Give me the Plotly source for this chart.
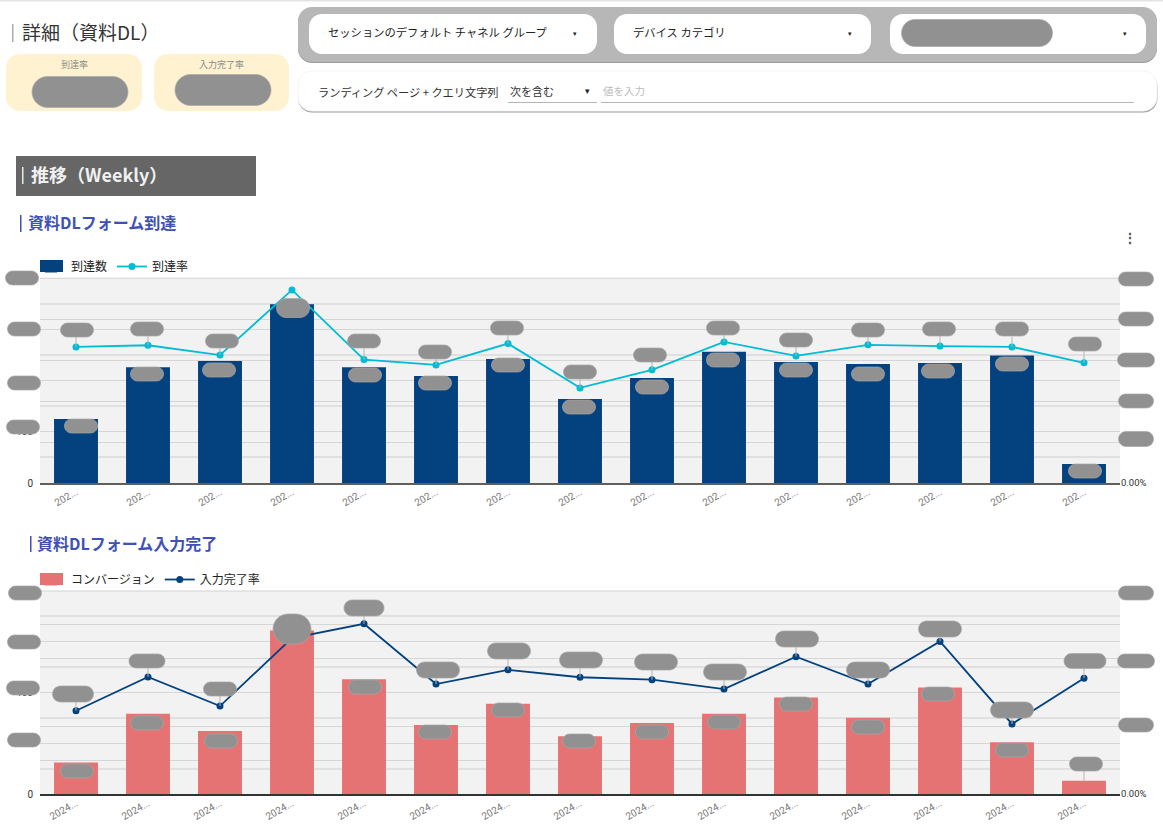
import plotly.graph_objects as go

W, H = 1163, 834
FONT = "Noto Sans CJK JP"
TICK_FONT = "Roboto"

weeks = list(range(1, 16))
tick_labels_1 = ["202..."] * 15
tick_labels_2 = ["2024..."] * 15

reach_count = [125, 226, 238, 349, 226, 209, 242, 164, 205, 256, 236, 232, 234, 249, 37]
reach_rate = [0.332, 0.336, 0.312, 0.471, 0.301, 0.288, 0.340, 0.232, 0.276, 0.344,
              0.310, 0.337, 0.334, 0.332, 0.293]
conversions = [31, 79, 62, 161, 113, 68, 89, 57, 70, 79, 95, 75, 105, 51, 13]
input_rate = [0.246, 0.346, 0.260, 0.461, 0.503, 0.325, 0.367, 0.345, 0.338, 0.310,
              0.406, 0.325, 0.451, 0.207, 0.342]

# leader line length above each rate point, px
leads_1 = [10, 9, 8, 0, 12, 10, 10, 10, 10, 8, 10, 10, 10, 10, 12]
leads_2 = [12, 10, 10, 0, 8, 8, 12, 10, 10, 10, 10, 8, 8, 8, 12]

# grey blanked-out labels: centre x, centre y, width, height
axis_pills = [(22, 278, 33, 14), (24, 329, 33, 14), (24, 383, 33, 14), (23, 427, 33, 14),
              (1136, 279, 35, 14), (1136, 319, 35, 14), (1136, 360, 37, 14),
              (1136, 401, 35, 14), (1136, 439, 35, 15),
              (25, 593, 33, 14), (24, 642, 33, 14), (23, 688, 33, 14), (24, 740, 33, 14),
              (1136, 593, 35, 14), (1136, 661, 37, 14), (1136, 725, 35, 14)]
reach_pills = [(77, 330, 33, 14), (147, 329, 33, 14), (222, 341, 33, 14), (364, 341, 33, 14),
               (435, 352, 33, 14), (507, 328, 33, 14), (580, 372, 33, 14), (650, 355, 33, 14),
               (723, 328, 33, 14), (796, 340, 33, 14), (868, 330, 33, 14), (939, 329, 33, 14),
               (1012, 329, 33, 14), (1085, 344, 33, 14),
               (81, 426, 33, 14), (147, 374, 33, 14), (219, 370, 33, 14), (293, 308, 33, 19),
               (365, 375, 33, 14), (435, 383, 33, 14), (508, 365, 33, 14), (579, 407, 33, 14),
               (652, 387, 33, 14), (723, 360, 33, 14), (796, 370, 33, 14), (868, 374, 33, 14),
               (938, 371, 33, 14), (1012, 364, 33, 14), (1085, 471, 33, 14)]
input_pills = [(73, 694, 41, 16), (147, 661, 36, 14), (220, 689, 33, 14), (292, 629, 38, 30),
               (364, 608, 40, 16), (438, 670, 43, 16), (509, 651, 43, 16), (581, 660, 43, 16),
               (656, 662, 43, 16), (725, 672, 43, 16), (797, 639, 43, 16), (868, 670, 43, 16),
               (940, 629, 43, 16), (1012, 710, 43, 16), (1085, 661, 42, 15),
               (77, 771, 33, 14), (147, 723, 33, 14), (221, 741, 33, 14), (365, 687, 33, 14),
               (435, 732, 33, 14), (508, 710, 33, 14), (579, 741, 33, 14), (652, 732, 33, 14),
               (724, 722, 33, 14), (796, 704, 33, 14), (868, 727, 33, 14), (938, 694, 33, 14),
               (1012, 750, 33, 14), (1086, 764, 33, 14)]
header_pills = [(80, 92, 96, 31), (223, 90, 96, 31), (977, 33, 151, 27)]


def px(x):
    return x / W


def py(y):
    return 1 - y / H


def round_rect(x0, y0, x1, y1, r, fill, line=None, width=1):
    # rounded box in page pixels, corners are cubic arcs
    k = r * 0.45
    p = (f"M {px(x0 + r)} {py(y0)} L {px(x1 - r)} {py(y0)} "
         f"C {px(x1 - k)} {py(y0)} {px(x1)} {py(y0 + k)} {px(x1)} {py(y0 + r)} "
         f"L {px(x1)} {py(y1 - r)} C {px(x1)} {py(y1 - k)} {px(x1 - k)} {py(y1)} {px(x1 - r)} {py(y1)} "
         f"L {px(x0 + r)} {py(y1)} C {px(x0 + k)} {py(y1)} {px(x0)} {py(y1 - k)} {px(x0)} {py(y1 - r)} "
         f"L {px(x0)} {py(y0 + r)} C {px(x0)} {py(y0 + k)} {px(x0 + k)} {py(y0)} {px(x0 + r)} {py(y0)} Z")
    return dict(type="path", xref="paper", yref="paper", path=p, fillcolor=fill,
                line=dict(color=line or fill, width=width if line else 0), layer="above")


def box(x0, y0, x1, y1, fill):
    return dict(type="rect", xref="paper", yref="paper", x0=px(x0), x1=px(x1),
                y0=py(y1), y1=py(y0), fillcolor=fill, line=dict(width=0), layer="above")


def text(x, y, s, size, color, anchor="left", bold=False):
    if bold:
        s = f"<b>{s}</b>"
    return dict(x=px(x), y=py(y), xref="paper", yref="paper", text=s, showarrow=False,
                xanchor=anchor, yanchor="middle", font=dict(size=size, color=color, family=FONT))


fig = go.Figure()

fig.add_trace(go.Bar(x=weeks, y=reach_count, name="到達数", marker=dict(color="#03427F", line=dict(width=0)),
                     xaxis="x", yaxis="y", legend="legend"))
fig.add_trace(go.Scatter(x=weeks, y=reach_rate, name="到達率", mode="lines+markers",
                         line=dict(color="#00BCD4", width=1.8), marker=dict(size=7, color="#00BCD4"),
                         xaxis="x", yaxis="y2", legend="legend"))
fig.add_trace(go.Bar(x=weeks, y=conversions, name="コンバージョン", marker=dict(color="#E57373", line=dict(width=0)),
                     xaxis="x2", yaxis="y3", legend="legend2"))
fig.add_trace(go.Scatter(x=weeks, y=input_rate, name="入力完了率", mode="lines+markers",
                         line=dict(color="#03427F", width=1.8), marker=dict(size=7, color="#03427F"),
                         xaxis="x2", yaxis="y4", legend="legend2"))

shapes = [
    box(0, 0, W, 1.5, "#E3E3E3"),
    box(12, 24, 13.5, 42, "#ABABAB"),
    round_rect(6, 54, 142, 111, 14, "#FFF2D0"),
    round_rect(154, 54, 289, 111, 14, "#FFF2D0"),
    round_rect(298, 8, 1157, 63, 14, "#9A9A9A"),
    round_rect(298, 7, 1157, 62, 14, "#B7B7B7"),
    round_rect(309, 14, 597, 54, 13, "#FFFFFF"),
    round_rect(614, 14, 871, 54, 13, "#FFFFFF"),
    round_rect(890, 14, 1146, 54, 13, "#FFFFFF"),
    round_rect(298, 72.5, 1157.5, 112.5, 14, "#9E9E9E"),
    round_rect(298, 71, 1157, 111, 14, "#FFFFFF", "#F4F4F4"),
    box(508, 102, 597, 103, "#B5B5B5"),
    box(601, 102, 1134, 103, "#B5B5B5"),
    box(16, 156, 256, 196, "#666666"),
    box(22, 167, 23.5, 184, "#E8E8E8"),
    box(20, 215, 21.5, 232, "#3F51B5"),
    box(30, 536, 31.5, 552, "#3F51B5"),
    box(40, 277.8, 1120, 278.8, "#D2D2D2"),
    box(40, 590.5, 1120, 591.5, "#D2D2D2"),
    # legend swatches are bigger than the ones plotly draws
    box(40, 260, 63, 272, "#03427F"),
    box(40, 573, 63, 585, "#E57373"),
]

# leader lines hang off the rate points, so they follow the data
for w, r, n in zip(weeks, reach_rate, leads_1):
    if n:
        shapes.append(dict(type="line", xref="x", yref="y2", x0=w, x1=w, ysizemode="pixel", yanchor=r,
                           y0=0, y1=n, line=dict(color="#B5B5B5", width=1), layer="above"))
for w, r, n in zip(weeks, input_rate, leads_2):
    if n:
        shapes.append(dict(type="line", xref="x2", yref="y4", x0=w, x1=w, ysizemode="pixel", yanchor=r,
                           y0=0, y1=n, line=dict(color="#B5B5B5", width=1), layer="above"))
shapes.append(dict(type="line", xref="x2", yref="y3", x0=15, x1=15, ysizemode="pixel", yanchor=conversions[14],
                   y0=0, y1=12, line=dict(color="#B5B5B5", width=1), layer="above"))

for cx, cy, w, h in axis_pills + reach_pills + input_pills + header_pills:
    r = min(h, w) / 2
    shapes.append(round_rect(cx - w / 2, cy - h / 2, cx + w / 2, cy + h / 2, r, "#919191", "#A8A8A8", 0.7))

annotations = [
    text(20, 32, "詳細（資料DL）", 19, "#333333"),
    text(74, 65, "到達率", 9, "#8A8A8A", "center"),
    text(221, 65, "入力完了率", 9, "#8A8A8A", "center"),
    text(326, 32, "セッションのデフォルト チャネル グループ", 11.3, "#222222"),
    text(631, 32, "デバイス カテゴリ", 11.3, "#222222"),
    text(575, 33, "▾", 7, "#222222", "center"),
    text(850, 33, "▾", 7, "#222222", "center"),
    text(1125, 33, "▾", 7, "#222222", "center"),
    text(316, 92, "ランディング ページ + クエリ文字列", 11.2, "#333333"),
    text(508, 90.5, "次を含む", 11, "#333333"),
    text(587, 91, "▾", 9, "#222222", "center"),
    text(601, 90.5, "値を入力", 10.5, "#BDBDBD"),
    text(29, 174, "推移（Weekly）", 18, "#F0F0F0", bold=True),
    text(26, 222, "資料DLフォーム到達", 16, "#3F51B5", bold=True),
    text(35, 543, "資料DLフォーム入力完了", 16, "#3F51B5", bold=True),
    text(1130, 237, "⋮", 14, "#555555", "center", bold=True),
]

grid = "#D6D6D6"
minor_grid = "#E0E0E0"
tick_font = dict(size=10, color="#333333", family=TICK_FONT)
right_tick_font = dict(size=9.5, color="#333333", family=TICK_FONT)
x_tick_font = dict(size=10, color="#777777", family=TICK_FONT)


def x_axis(labels, domain_anchor, line_color):
    return dict(domain=[px(40), px(1120)], anchor=domain_anchor, range=[0.5, 15.5],
                tickmode="array", tickvals=weeks, ticktext=labels, tickangle=-30, tickfont=x_tick_font,
                showgrid=False, showline=True, linecolor=line_color, linewidth=1.5, zeroline=False,
                ticks="", ticklen=0, ticklabelstandoff=-2)


def y_left(top, bottom, rng, step):
    return dict(domain=[py(bottom), py(top)], range=rng, dtick=step, gridcolor=grid, gridwidth=1.2,
                minor=dict(dtick=step / 2, showgrid=True, gridcolor=minor_grid, gridwidth=1.5),
                zeroline=False, tickfont=tick_font, ticks="", automargin=False, ticklabelstandoff=6)


def y_right(over, rng, step, minor_step=None):
    ax = dict(overlaying=over, side="right", range=rng, dtick=step, gridcolor=grid, gridwidth=1.2,
              zeroline=False, tickformat=".2%", tickfont=right_tick_font, ticks="", anchor="free",
              position=px(1120), automargin=False)
    if minor_step:
        ax["minor"] = dict(dtick=minor_step, showgrid=True, gridcolor=grid, gridwidth=1.2)
    return ax


fig.update_layout(
    width=W, height=H, margin=dict(l=0, r=0, t=0, b=0), autosize=False,
    paper_bgcolor="#FFFFFF", plot_bgcolor="#F2F2F2",
    font=dict(family=FONT), bargap=0.39, barmode="overlay",
    xaxis=x_axis(tick_labels_1, "y", "#5F5F5F"),
    yaxis=y_left(278, 483, [0, 400], 100),
    yaxis2=y_right("y", [0, 0.5], 0.1),
    xaxis2=x_axis(tick_labels_2, "y3", "#333333"),
    yaxis3=y_left(591, 794, [0, 200], 50),
    yaxis4=y_right("y3", [0, 0.6], 0.2, 0.1),
    legend=dict(orientation="h", x=px(31), y=py(252), xanchor="left", yanchor="top",
                font=dict(size=12, color="#222222", family=FONT), bgcolor="rgba(0,0,0,0)",
                itemwidth=30, traceorder="normal"),
    legend2=dict(orientation="h", x=px(31), y=py(565), xanchor="left", yanchor="top",
                 font=dict(size=12, color="#222222", family=FONT), bgcolor="rgba(0,0,0,0)",
                 itemwidth=30, traceorder="normal"),
    shapes=shapes,
    annotations=annotations,
)

fig.write_html("out.html", config=dict(displayModeBar=False),
               post_script="document.body.style.margin='0';document.body.style.overflow='hidden';")
